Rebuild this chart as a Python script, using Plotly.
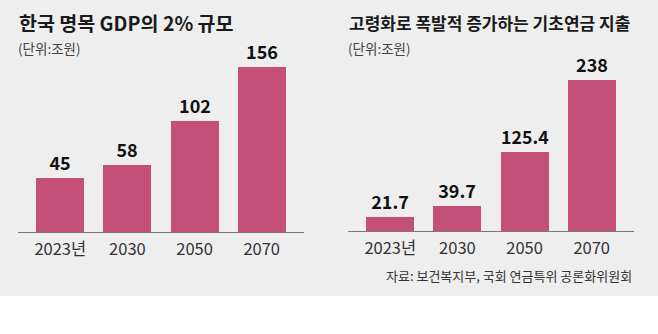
import plotly.graph_objects as go

# ---- data ----
years = ["2023년", "2030", "2050", "2070"]
gdp2pct = [45, 58, 102, 156]
basic_pension = [21.7, 39.7, 125.4, 238]
value_labels_left = ["45", "58", "102", "156"]
value_labels_right = ["21.7", "39.7", "125.4", "238"]

title_left = "한국 명목 GDP의 2% 규모"
title_right = "고령화로 폭발적 증가하는 기초연금 지출"
unit_text = "(단위:조원)"
source_text = "자료: 보건복지부, 국회 연금특위 공론화위원회"

# ---- style ----
W, H = 658, 334
BAR = "#c4507a"
BG = "#eeeeee"
FONT = "Noto Sans CJK KR"
LEFT_BASE = -9  # left panel bars start slightly below zero (visual offset)

def px_x(p):
    return p / W

def px_y(p):
    return 1 - p / H

fig = go.Figure()

fig.add_trace(go.Bar(
    x=years, y=[v - LEFT_BASE for v in gdp2pct], base=LEFT_BASE,
    marker=dict(color=BAR, line=dict(width=0)), width=0.716,
    text=value_labels_left, textposition="outside",
    textfont=dict(family=FONT, size=18, color="#111", weight="bold"),
    cliponaxis=False, xaxis="x", yaxis="y", showlegend=False,
))
fig.add_trace(go.Bar(
    x=years, y=basic_pension,
    marker=dict(color=BAR, line=dict(width=0)), width=0.716,
    text=value_labels_right, textposition="outside",
    textfont=dict(family=FONT, size=18, color="#111", weight="bold"),
    cliponaxis=False, xaxis="x2", yaxis="y2", showlegend=False,
))

xcommon = dict(type="category", range=[-0.63, 3.63], showline=True,
               linecolor="#7a7a7a", linewidth=1, ticks="", showgrid=False,
               zeroline=False, tickfont=dict(family=FONT, size=16.5, color="#333"),
               ticklabelstandoff=2, fixedrange=True)

fig.update_layout(
    width=W, height=H, margin=dict(l=0, r=0, t=0, b=0),
    paper_bgcolor="white", plot_bgcolor="rgba(0,0,0,0)",
    font=dict(family=FONT),
    bargap=0.0,
    xaxis=dict(domain=[px_x(18), px_x(304)], anchor="y", **xcommon),
    xaxis2=dict(domain=[px_x(348), px_x(634)], anchor="y2", **xcommon),
    yaxis=dict(domain=[px_y(232), px_y(40)], range=[LEFT_BASE, LEFT_BASE + 192],
               visible=False, showgrid=False, zeroline=False),
    yaxis2=dict(domain=[px_y(231), px_y(40)], range=[0, 191 / 0.634],
                visible=False, showgrid=False, zeroline=False),
    shapes=[dict(type="rect", xref="paper", yref="paper", x0=0, x1=1,
                 y0=px_y(296), y1=1, fillcolor=BG, line=dict(width=0),
                 layer="below")],
    annotations=[
        dict(text=title_left, x=px_x(17), y=px_y(22.5), xref="paper", yref="paper",
             xanchor="left", yanchor="middle", showarrow=False,
             font=dict(family=FONT, size=19.5, color="#1a1a1a", weight="bold")),
        dict(text=unit_text, x=px_x(16), y=px_y(47.5), xref="paper", yref="paper",
             xanchor="left", yanchor="middle", showarrow=False,
             font=dict(family=FONT, size=13.5, color="#444")),
        dict(text=title_right, x=px_x(347), y=px_y(22.5), xref="paper", yref="paper",
             xanchor="left", yanchor="middle", showarrow=False,
             font=dict(family=FONT, size=17, color="#1a1a1a", weight="bold")),
        dict(text=unit_text, x=px_x(346), y=px_y(47.5), xref="paper", yref="paper",
             xanchor="left", yanchor="middle", showarrow=False,
             font=dict(family=FONT, size=13.5, color="#444")),
        dict(text=source_text, x=px_x(634), y=px_y(275.5), xref="paper", yref="paper",
             xanchor="right", yanchor="middle", showarrow=False,
             font=dict(family=FONT, size=13, color="#333")),
    ],
)

fig.write_html("out.html")
